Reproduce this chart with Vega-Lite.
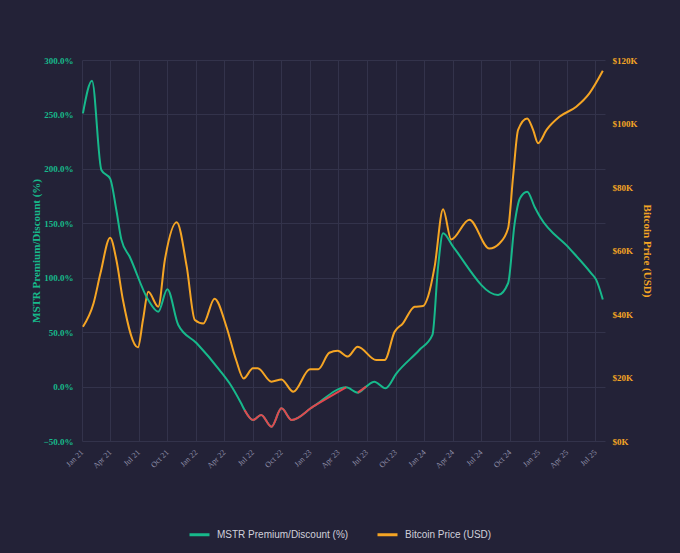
{
  "$schema": "https://vega.github.io/schema/vega-lite/v6.json",
  "width": 523,
  "height": 381,
  "autosize": "none",
  "padding": {"left": 82, "top": 60, "right": 75, "bottom": 112},
  "background": "#232237",
  "config": {
    "view": {"stroke": null},
    "axis": {"domain": false, "ticks": false, "gridColor": "#33334b", "gridWidth": 1}
  },
  "datasets": {
    "btc": [
      {"date": "2021-01-04", "price": 36000},
      {"date": "2021-02-07", "price": 43400},
      {"date": "2021-03-01", "price": 52800},
      {"date": "2021-04-01", "price": 64000},
      {"date": "2021-04-21", "price": 57000},
      {"date": "2021-05-12", "price": 44400},
      {"date": "2021-06-29", "price": 29500},
      {"date": "2021-07-15", "price": 38100},
      {"date": "2021-08-01", "price": 47000},
      {"date": "2021-09-02", "price": 42300},
      {"date": "2021-09-23", "price": 57000},
      {"date": "2021-10-31", "price": 68900},
      {"date": "2021-12-02", "price": 54900},
      {"date": "2021-12-28", "price": 38100},
      {"date": "2022-01-24", "price": 37000},
      {"date": "2022-03-01", "price": 44800},
      {"date": "2022-04-08", "price": 36000},
      {"date": "2022-05-09", "price": 25500},
      {"date": "2022-06-02", "price": 19700},
      {"date": "2022-07-02", "price": 22900},
      {"date": "2022-07-17", "price": 22900},
      {"date": "2022-08-30", "price": 18700},
      {"date": "2022-10-01", "price": 19400},
      {"date": "2022-11-08", "price": 15500},
      {"date": "2022-12-31", "price": 22600},
      {"date": "2023-01-27", "price": 22600},
      {"date": "2023-03-03", "price": 27800},
      {"date": "2023-03-30", "price": 28400},
      {"date": "2023-05-01", "price": 26600},
      {"date": "2023-06-02", "price": 29700},
      {"date": "2023-07-31", "price": 25500},
      {"date": "2023-08-27", "price": 25500},
      {"date": "2023-09-28", "price": 34400},
      {"date": "2023-10-24", "price": 37000},
      {"date": "2023-12-01", "price": 42300},
      {"date": "2023-12-28", "price": 42500},
      {"date": "2024-01-13", "price": 45500},
      {"date": "2024-02-03", "price": 54900},
      {"date": "2024-03-01", "price": 73000},
      {"date": "2024-03-27", "price": 63500},
      {"date": "2024-05-24", "price": 69700},
      {"date": "2024-07-27", "price": 60600},
      {"date": "2024-08-29", "price": 62300},
      {"date": "2024-09-25", "price": 67000},
      {"date": "2024-10-11", "price": 83300},
      {"date": "2024-10-27", "price": 98000},
      {"date": "2024-11-25", "price": 101600},
      {"date": "2024-12-14", "price": 98000},
      {"date": "2024-12-30", "price": 93800},
      {"date": "2025-01-26", "price": 98000},
      {"date": "2025-03-08", "price": 102100},
      {"date": "2025-05-01", "price": 105300},
      {"date": "2025-06-12", "price": 109500},
      {"date": "2025-07-25", "price": 116600}
    ],
    "mstr": [
      {"date": "2021-01-04", "premium": 251},
      {"date": "2021-02-02", "premium": 281},
      {"date": "2021-03-04", "premium": 199},
      {"date": "2021-04-01", "premium": 191},
      {"date": "2021-04-21", "premium": 162},
      {"date": "2021-05-07", "premium": 135},
      {"date": "2021-06-03", "premium": 119},
      {"date": "2021-08-01", "premium": 79.5},
      {"date": "2021-09-02", "premium": 68.8},
      {"date": "2021-10-01", "premium": 89.4},
      {"date": "2021-11-05", "premium": 56.6},
      {"date": "2022-01-03", "premium": 39.8},
      {"date": "2022-03-17", "premium": 15.2},
      {"date": "2022-04-18", "premium": 3},
      {"date": "2022-05-25", "premium": -15.4},
      {"date": "2022-06-05", "premium": -21.5},
      {"date": "2022-07-02", "premium": -30.7},
      {"date": "2022-07-28", "premium": -26.1},
      {"date": "2022-08-30", "premium": -36.9},
      {"date": "2022-10-01", "premium": -20},
      {"date": "2022-11-03", "premium": -30.7},
      {"date": "2023-01-10", "premium": -18.5},
      {"date": "2023-04-26", "premium": -0.7},
      {"date": "2023-06-02", "premium": -5.6},
      {"date": "2023-06-29", "premium": 0},
      {"date": "2023-07-25", "premium": 4.5},
      {"date": "2023-08-30", "premium": -1.6},
      {"date": "2023-10-04", "premium": 12.2},
      {"date": "2023-12-16", "premium": 33.6},
      {"date": "2024-01-27", "premium": 47.4},
      {"date": "2024-02-14", "premium": 110},
      {"date": "2024-03-01", "premium": 140.8},
      {"date": "2024-04-02", "premium": 128.5},
      {"date": "2024-08-24", "premium": 84.1},
      {"date": "2024-09-25", "premium": 94.9},
      {"date": "2024-10-16", "premium": 150},
      {"date": "2024-11-02", "premium": 173},
      {"date": "2024-11-25", "premium": 179},
      {"date": "2024-12-19", "premium": 165},
      {"date": "2025-01-05", "premium": 156},
      {"date": "2025-04-09", "premium": 127},
      {"date": "2025-06-18", "premium": 104},
      {"date": "2025-07-04", "premium": 98},
      {"date": "2025-07-25", "premium": 80}
    ],
    "discount": [
      {"date": "2022-06-05", "premium": -21.5, "seg": 1},
      {"date": "2022-07-02", "premium": -30.7, "seg": 1},
      {"date": "2022-07-28", "premium": -26.1, "seg": 1},
      {"date": "2022-08-30", "premium": -36.9, "seg": 1},
      {"date": "2022-10-01", "premium": -20, "seg": 1},
      {"date": "2022-11-03", "premium": -30.7, "seg": 1},
      {"date": "2023-01-10", "premium": -18.5, "seg": 1},
      {"date": "2023-04-26", "premium": -0.7, "seg": 1},
      {"date": "2023-06-02", "premium": -5.6, "seg": 2},
      {"date": "2023-06-29", "premium": 0, "seg": 2}
    ]
  },
  "encoding": {
    "x": {
      "field": "date",
      "type": "temporal",
      "scale": {
        "type": "utc",
        "nice": false,
        "domain": [
          {"year": 2021, "month": 1, "date": 1, "utc": true},
          {"year": 2025, "month": 8, "date": 1, "utc": true}
        ]
      },
      "axis": {
        "title": null,
        "format": "%b %y",
        "tickCount": {"interval": "month", "step": 3},
        "labelAngle": -45,
        "labelAlign": "right",
        "labelBaseline": "middle",
        "labelPadding": 10,
        "labelOverlap": false,
        "labelFont": "Liberation Serif",
        "labelFontSize": 8,
        "labelColor": "#8e8ea8"
      }
    }
  },
  "layer": [
    {
      "data": {"name": "btc"},
      "mark": {"type": "line", "interpolate": "monotone", "strokeWidth": 2},
      "encoding": {
        "y": {
          "field": "price",
          "type": "quantitative",
          "scale": {"domain": [0, 120000], "nice": false},
          "axis": {
            "orient": "right",
            "grid": false,
            "title": "Bitcoin Price (USD)",
            "values": [0, 20000, 40000, 60000, 80000, 100000, 120000],
            "labelExpr": "'$' + (datum.value / 1000) + 'K'",
            "labelPadding": 7,
            "labelFont": "Liberation Serif",
            "labelFontWeight": "bold",
            "labelFontSize": 9,
            "labelColor": "#f5a524",
            "titleFont": "Liberation Serif",
            "titleFontWeight": "bold",
            "titleFontSize": 11,
            "titleColor": "#f5a524",
            "titlePadding": 4
          }
        },
        "color": {
          "datum": "Bitcoin Price (USD)",
          "type": "nominal",
          "scale": {
            "domain": ["MSTR Premium/Discount (%)", "Bitcoin Price (USD)"],
            "range": ["#17b98b", "#f5a524"]
          },
          "legend": {
            "title": null,
            "orient": "none",
            "legendX": 106,
            "legendY": 463,
            "direction": "horizontal",
            "symbolType": "stroke",
            "symbolStrokeWidth": 3,
            "symbolSize": 400,
            "labelFont": "Liberation Sans",
            "labelFontSize": 10,
            "labelColor": "#d0d0da",
            "labelOffset": 6,
            "columnPadding": 22
          }
        }
      }
    },
    {
      "encoding": {
        "y": {
          "field": "premium",
          "type": "quantitative",
          "scale": {"domain": [-50, 300], "nice": false},
          "axis": {
            "orient": "left",
            "grid": true,
            "title": "MSTR Premium/Discount (%)",
            "values": [-50, 0, 50, 100, 150, 200, 250, 300],
            "labelExpr": "format(datum.value, '.1f') + '%'",
            "labelPadding": 9,
            "labelFont": "Liberation Serif",
            "labelFontWeight": "bold",
            "labelFontSize": 9,
            "labelColor": "#17b98b",
            "titleFont": "Liberation Serif",
            "titleFontWeight": "bold",
            "titleFontSize": 11,
            "titleColor": "#17b98b",
            "titlePadding": 2
          }
        }
      },
      "layer": [
        {
          "data": {"name": "mstr"},
          "mark": {"type": "line", "interpolate": "monotone", "strokeWidth": 2},
          "encoding": {
            "color": {"datum": "MSTR Premium/Discount (%)", "type": "nominal"}
          }
        },
        {
          "data": {"name": "discount"},
          "mark": {"type": "line", "interpolate": "monotone", "strokeWidth": 2},
          "encoding": {
            "detail": {"field": "seg", "type": "nominal"},
            "color": {"value": "#e2474f"}
          }
        }
      ]
    }
  ],
  "resolve": {"scale": {"y": "independent"}}
}
